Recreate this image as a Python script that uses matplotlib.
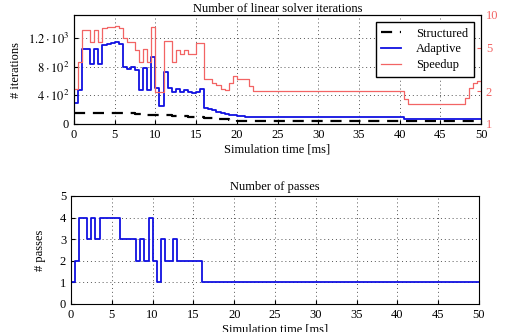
import numpy as np
import matplotlib
matplotlib.use('Agg')
import matplotlib.pyplot as plt
from matplotlib.ticker import FixedLocator, NullLocator

plt.rcParams['font.family'] = ['Liberation Serif', 'DejaVu Serif']
plt.rcParams['mathtext.fontset'] = 'stix'
plt.rcParams['font.size'] = 9

# step change points [ms]
time = [0, 0.5, 1, 1.5, 2, 2.5, 3, 3.5, 4, 4.5, 5, 5.5, 6, 6.5, 7, 7.5, 8, 8.5,
        9, 9.5, 10, 10.5, 11, 11.5, 12, 12.5, 13, 13.5, 14, 14.5, 15, 15.5, 16,
        16.5, 17, 17.5, 18, 18.5, 19, 19.5, 20, 20.5, 21, 21.5, 22, 40.5, 41,
        48, 48.5, 49, 49.5, 50]

structured = [150, 150, 150, 150, 150, 150, 150, 150, 150, 150, 150, 150, 150,
              150, 150, 140, 140, 140, 130, 130, 122, 122, 122, 122, 115, 110,
              108, 105, 102, 100, 98, 95, 90, 85, 82, 75, 70, 65, 58, 52, 45,
              40, 38, 38, 38, 36, 36, 36, 36, 36, 36, 36]

adaptive = [290, 480, 1050, 1050, 830, 1050, 830, 1100, 1120, 1130, 1150, 1110,
            790, 770, 790, 750, 470, 780, 480, 940, 500, 250, 730, 500, 450,
            490, 450, 480, 440, 430, 440, 490, 230, 205, 190, 170, 150, 140,
            130, 125, 110, 105, 100, 100, 95, 75, 65, 65, 65, 65, 65, 65]

speedup = [2.1, 3.7, 7.3, 7.3, 5.7, 7.3, 5.7, 7.6, 7.8, 7.8, 8.0, 7.6, 6.1, 5.6,
           5.6, 4.8, 3.7, 4.9, 3.7, 7.7, 1.95, 1.95, 5.8, 5.8, 3.7, 4.8, 4.4,
           4.8, 4.4, 4.4, 5.5, 5.5, 2.6, 2.6, 2.4, 2.3, 2.1, 2.05, 2.4, 2.75,
           2.6, 2.6, 2.6, 2.25, 2.02, 1.7, 1.52, 1.75, 2.15, 2.4, 2.5, 2.5]

pass_time = [0, 0.5, 1, 2, 2.5, 3, 3.5, 6, 8, 8.5, 9, 9.5, 10, 10.5, 11, 11.5,
             12.5, 13, 16, 50]
passes = [1, 2, 4, 3, 4, 3, 4, 3, 2, 3, 2, 4, 2, 1, 3, 2, 3, 2, 1, 1]

iter_ticks = [0, 400, 800, 1200]
iter_labels = ['0', r'$4\cdot10^{2}$', r'$8\cdot10^{2}$', r'$1.2\cdot10^{3}$']
speed_ticks = [1, 2, 5, 10]

red = '#f26464'
blue = '#1010e0'

fig = plt.figure(figsize=(5.06, 3.32), dpi=100)

# top: iterations
ax1 = fig.add_axes([74/506, 1-124/332, (481-74)/506, (124-15)/332])
l1, = ax1.step(time, structured, where='post', color='black', lw=1.6,
               dashes=(5, 3.5), label='Structured')
l2, = ax1.step(time, adaptive, where='post', color=blue, lw=1.3,
               label='Adaptive')
ax1.set_xlim(0, 50)
ax1.set_ylim(0, 1520)
ax1.set_xticks(np.arange(0, 51, 5))
ax1.set_yticks(iter_ticks)
ax1.set_yticklabels(iter_labels)
ax1.set_xlabel('Simulation time [ms]', labelpad=2)
ax1.set_ylabel('# iterations', labelpad=4)
ax1.set_title('Number of linear solver iterations', fontsize=9, pad=2)
ax1.grid(True, ls=(0, (1, 3)), color='#555555', lw=0.7)
ax1.tick_params(direction='in', length=3)

ax2 = ax1.twinx()
l3, = ax2.step(time, speedup, where='post', color=red, lw=0.9,
               label='Speedup')
ax2.set_yscale('log')
ax2.set_ylim(1, 10)
ax2.yaxis.set_major_locator(FixedLocator(speed_ticks))
ax2.yaxis.set_minor_locator(NullLocator())
ax2.set_yticklabels([str(v) for v in speed_ticks])
ax2.tick_params(axis='y', colors=red, direction='in', length=3)
for sp in ax2.spines.values():
    sp.set_color('black')

leg = ax2.legend(handles=[l1, l2, l3], loc='upper right',
                 bbox_to_anchor=(0.983, 0.936), borderaxespad=0,
                 fancybox=False, edgecolor='black', framealpha=1,
                 handlelength=1.6, handletextpad=1.2, borderpad=0.45,
                 labelspacing=0.3, fontsize=9)
leg.get_frame().set_linewidth(1.0)

# bottom: passes
ax3 = fig.add_axes([71/506, 1-304/332, (479-71)/506, (304-196)/332])
ax3.step(pass_time, passes, where='post', color=blue, lw=1.3)
ax3.set_xlim(0, 50)
ax3.set_ylim(0, 5)
ax3.set_xticks(np.arange(0, 51, 5))
ax3.set_yticks(range(6))
ax3.set_xlabel('Simulation time [ms]', labelpad=2)
ax3.set_ylabel('# passes', labelpad=10)
ax3.set_title('Number of passes', fontsize=9, pad=4)
ax3.grid(True, ls=(0, (1, 3)), color='#555555', lw=0.7)
ax3.tick_params(direction='in', length=3)

fig.savefig('out.png', dpi=100)
